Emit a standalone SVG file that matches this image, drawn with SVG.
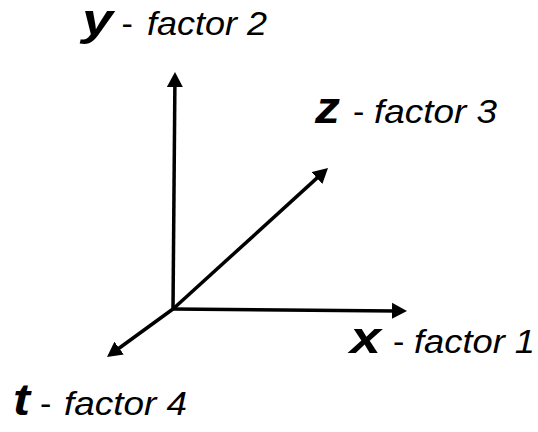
<svg xmlns="http://www.w3.org/2000/svg" width="538" height="432" viewBox="0 0 538 432">
  <style>
    .axis { stroke: #000; stroke-width: 3.5; fill: none; marker-end: url(#head); }
    .lbl { font-family: "Liberation Sans", Arial, sans-serif; fill: #000; }
    .var { font-weight: bold; font-style: italic; font-size: 45px; }
    .fac { font-style: italic; font-size: 34px; }
    .dash { font-size: 34px; }
  </style>
  <defs>
    <marker id="head" markerUnits="userSpaceOnUse" markerWidth="17" markerHeight="17" viewBox="0 0 17 17" refX="4" refY="8.5" orient="auto">
      <path d="M0,0.5 L15,8.5 L0,16.5 z" fill="#000"/>
    </marker>
  </defs>
  <rect width="538" height="432" fill="#fff"/>
  <g id="connectors">
    <line class="axis" x1="173" y1="309" x2="174.9" y2="83"/>
    <line class="axis" x1="173" y1="309" x2="396" y2="310.9"/>
    <line class="axis" x1="173" y1="309" x2="319.9" y2="175.4"/>
    <line class="axis" x1="173" y1="309" x2="115.9" y2="350.5"/>
  </g>
  <g id="label-y">
    <text class="lbl var" x="82" y="35" textLength="31" lengthAdjust="spacingAndGlyphs">y</text>
    <text class="lbl dash" x="121.5" y="35">-</text>
    <text class="lbl fac" x="147" y="35" textLength="120" lengthAdjust="spacingAndGlyphs">factor 2</text>
  </g>
  <g id="label-z">
    <text class="lbl var" x="315" y="123" textLength="25" lengthAdjust="spacingAndGlyphs">z</text>
    <text class="lbl dash" x="353" y="123">-</text>
    <text class="lbl fac" x="374" y="123" textLength="123" lengthAdjust="spacingAndGlyphs">factor 3</text>
  </g>
  <g id="label-x">
    <text class="lbl var" x="350" y="353" textLength="31" lengthAdjust="spacingAndGlyphs">x</text>
    <text class="lbl dash" x="393" y="353">-</text>
    <text class="lbl fac" x="414" y="353" textLength="121" lengthAdjust="spacingAndGlyphs">factor 1</text>
  </g>
  <g id="label-t">
    <text class="lbl var" x="13" y="415" textLength="17" lengthAdjust="spacingAndGlyphs">t</text>
    <text class="lbl dash" x="40" y="415">-</text>
    <text class="lbl fac" x="64" y="415" textLength="123" lengthAdjust="spacingAndGlyphs">factor 4</text>
  </g>
</svg>
